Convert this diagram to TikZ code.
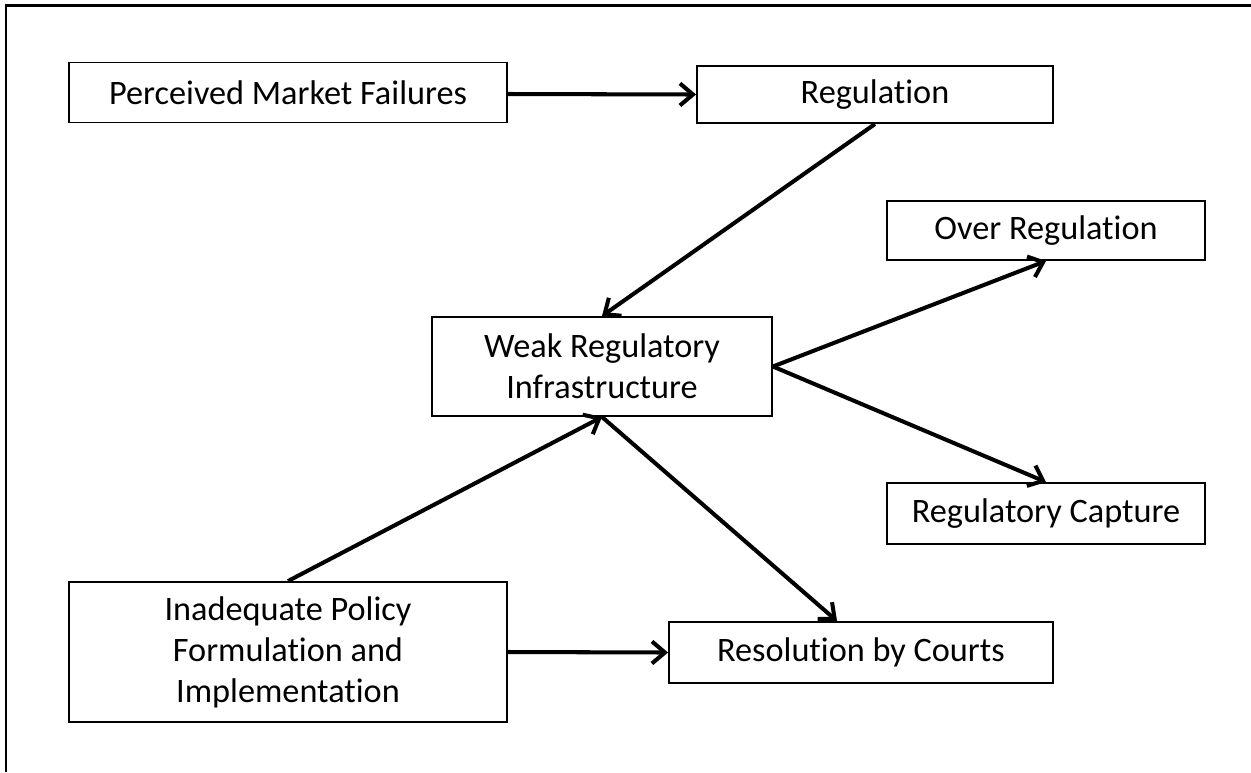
\documentclass[tikz,border=0pt]{standalone}
\usepackage{fontspec}
\setmainfont{Carlito}[Ligatures=NoCommon]
\usetikzlibrary{arrows.meta}

\begin{document}
\begin{tikzpicture}[x=0.02cm, y=-0.02cm]

\tikzset{box/.style = {shape=rectangle, draw, line width=1.1pt, inner sep=0pt, align=center,
  font=\fontsize{19.5}{23.3}\selectfont}}
\tikzset{edge/.style = {-{Straight Barb[length=0.26cm, width=0.44cm, line width=2.3pt]}, line width=2.3pt}}
\useasboundingbox (0,0) rectangle (1251,772);
%frame
\draw[line width=1.7pt] (6,772) -- (6,5) -- (1251,5);
%boxes
\node[box, minimum width=8.76cm, minimum height=1.2cm] (pmf) at (288,92.5) {Perceived Market Failures};
\node[box, minimum width=7.12cm, minimum height=1.14cm] (reg) at (875,94.5) {Regulation};
\node[box, minimum width=6.36cm, minimum height=1.18cm] (over) at (1046,230.5) {Over Regulation};
\node[box, minimum width=6.8cm, minimum height=1.98cm] (weak) at (602,366.5) {Weak Regulatory\\Infrastructure};
\node[box, minimum width=6.36cm, minimum height=1.22cm] (capture) at (1046,513.5) {Regulatory Capture};
\node[box, minimum width=8.76cm, minimum height=2.8cm] (inad) at (288,652) {Inadequate Policy\\Formulation and\\Implementation};
\node[box, minimum width=7.68cm, minimum height=1.22cm] (courts) at (861,652.5) {Resolution by Courts};
%arrows
\draw[edge] ([yshift=-0.03cm]pmf.east) -- (reg.west);
\draw[edge] (reg.south) -- (weak.north);
\draw[edge] (weak.east) -- (over.south);
\draw[edge] (weak.east) -- (capture.north);
\draw[edge] (inad.north) -- (weak.south);
\draw[edge] (weak.south) -- ([xshift=-0.48cm]courts.north);
\draw[edge] (inad.east) -- (courts.west);

\end{tikzpicture}
\end{document}
